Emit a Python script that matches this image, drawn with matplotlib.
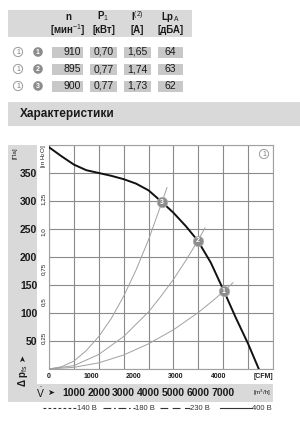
import matplotlib
matplotlib.use('Agg')
import matplotlib.pyplot as plt
from matplotlib import font_manager
from matplotlib.patches import Rectangle, Circle

# operating points table
point_no = [1, 2, 3]
speed = ['910', '895', '900']
power = ['0,70', '0,77', '0,77']
current = ['1,65', '1,74', '1,73']
noise = ['64', '63', '62']
head_top = ['n', 'P$_1$', 'I$^{(2)}$', 'Lp$_\\mathrm{A}$']
head_bot = ['[мин$^{-1}$]', '[кВт]', '[A]', '[дБА]']

# fan curve, m3/h vs Pa
fan_q = [0, 500, 1000, 1500, 2000, 2500, 3000, 3500, 4000, 4540, 5000, 5500, 5980, 6500, 7030, 7500, 8000, 8430]
fan_p = [396, 380, 365, 355, 350, 345, 339, 331, 319, 298, 279, 255, 229, 190, 139, 92, 45, 0]

# system curves through the operating points
sys1_q = [0, 1000, 2000, 3000, 4000, 5000, 6000, 6500, 7030, 7390]
sys1_p = [0, 3, 11, 25, 45, 70, 101, 119, 139, 154]
sys2_q = [0, 1000, 2000, 3000, 4000, 4500, 5000, 5500, 5980, 6270]
sys2_p = [0, 6, 26, 58, 102, 130, 160, 194, 229, 252]
sys3_q = [0, 500, 1000, 1500, 2000, 2500, 3000, 3500, 4000, 4540, 4740]
sys3_p = [0, 4, 14, 33, 58, 90, 130, 177, 231, 298, 324]

# operating points 1..3
op_q = [7030, 5980, 4540]
op_p = [139, 229, 298]

pa_ticks = [50, 100, 150, 200, 250, 300, 350]
inh2o_ticks = [0.25, 0.5, 0.75, 1.0, 1.25]
inh2o_labels = ['0,25', '0,5', '0,75', '1,0', '1,25']
m3h_ticks = [1000, 2000, 3000, 4000, 5000, 6000, 7000]
cfm_ticks = [0, 1000, 2000, 3000, 4000]
legend_labels = ['140 В', '180 В', '230 В', '400 В']

names = {f.name for f in font_manager.fontManager.ttflist}
main_font = 'Liberation Sans Narrow' if 'Liberation Sans Narrow' in names else 'Liberation Sans'
plt.rcParams['font.family'] = [main_font, 'DejaVu Sans']
plt.rcParams['mathtext.fontset'] = 'custom'
plt.rcParams['mathtext.rm'] = main_font
plt.rcParams['mathtext.it'] = main_font
plt.rcParams['mathtext.bf'] = main_font + ':bold'

band = '#d9d9d9'
cell = '#c8c8c8'
dark = '#8c8c8c'
txt = '#1a1a1a'

fig = plt.figure(figsize=(3.0, 4.32), dpi=100)

# background layer in pixel coords
bg = fig.add_axes([0, 0, 1, 1], zorder=0)
bg.set_xlim(0, 300)
bg.set_ylim(432, 0)
bg.axis('off')

# table
bg.add_patch(Rectangle((8, 10), 184, 27, color=band, lw=0))
col_c = [68, 103.5, 137.5, 170.5]
cells = [(52, 83), (90, 117), (124, 151), (158, 183)]
for c, t, b in zip(col_c, head_top, head_bot):
    bg.text(c, 16.5, t, ha='center', va='center', fontsize=7, fontweight='bold', color=txt)
    bg.text(c, 30, b, ha='center', va='center', fontsize=7, fontweight='bold', color=txt)

for i in range(len(point_no)):
    y = 52 + 17 * i
    bg.add_patch(Circle((18, y), 4.6, fc='white', ec='#9a9a9a', lw=0.7))
    bg.text(18, y + 0.3, '1', ha='center', va='center', fontsize=5, color='#7a7a7a')
    bg.add_patch(Circle((38, y), 4.8, fc=dark, ec='none'))
    bg.text(38, y + 0.3, str(point_no[i]), ha='center', va='center', fontsize=5,
            fontweight='bold', color='white')
    for (x0, x1) in cells:
        bg.add_patch(Rectangle((x0, y - 5.5), x1 - x0, 11, color=cell, lw=0))
    bg.text(81, y, speed[i], ha='right', va='center', fontsize=7.5, color=txt)
    bg.text(col_c[1], y, power[i], ha='center', va='center', fontsize=7.5, color=txt)
    bg.text(col_c[2], y, current[i], ha='center', va='center', fontsize=7.5, color=txt)
    bg.text(col_c[3], y, noise[i], ha='center', va='center', fontsize=7.5, color=txt)

# section title
bg.add_patch(Rectangle((8, 102), 292, 24, color=band, lw=0))
bg.text(20, 114.5, 'Характеристики', ha='left', va='center', fontsize=8.5,
        fontweight='bold', color=txt)

# gray frame around chart labels
bg.add_patch(Rectangle((8, 145), 29, 239, color=band, lw=0))
bg.add_patch(Rectangle((8, 384), 265, 18, color=band, lw=0))
bg.text(15, 153, '[Па]', rotation=90, ha='center', va='center', fontsize=4.5, color=txt)
bg.text(43, 156, '[in H$_2$O]', rotation=90, ha='center', va='center', fontsize=4.5, color=txt)
bg.text(23, 376, 'Δ p$_{fs}$', rotation=90, ha='center', va='center', fontsize=7,
        fontweight='bold', color=txt)
bg.text(23, 359, '➤', rotation=90, ha='center', va='center', fontsize=6,
        family='DejaVu Sans', color=txt)
bg.text(40, 392.5, '$\\dot{V}$', ha='center', va='center', fontsize=7.5, color=txt)
bg.text(51, 392.5, '➤', ha='center', va='center', fontsize=6, family='DejaVu Sans', color=txt)
bg.text(262, 393, '[m$^3$/h]', ha='center', va='center', fontsize=4.5, color=txt)
bg.text(263, 377, '[CFM]', ha='center', va='center', fontsize=5, fontweight='bold', color=txt)
bg.add_patch(Circle((264, 154), 4.6, fc='white', ec='#9a9a9a', lw=0.7))
bg.text(264, 154.3, '1', ha='center', va='center', fontsize=5, color='#7a7a7a')

# legend
leg_x = [(43, 77), (103, 135), (160, 190), (220, 252)]
leg_ls = [(0, (2.5, 2.0)), (0, (7, 2.5, 1.5, 2.5)), (0, (7, 4)), '-']
for (x0, x1), ls, lab in zip(leg_x, leg_ls, legend_labels):
    bg.plot([x0, x1], [408, 408], color='#333333', lw=0.8, linestyle=ls)
    bg.text(x1, 408, lab, ha='left', va='center', fontsize=5.5, color='#333333')

# main chart
ax = fig.add_axes([49 / 300, (432 - 369) / 432, 224 / 300, 224 / 432], zorder=1)
ax.patch.set_visible(False)
ax.set_xlim(0, 9000)
ax.set_ylim(0, 400)
xt = list(range(0, 10000, 1000))
yt = list(range(0, 450, 50))
ax.set_xticks(xt)
ax.set_xticklabels([str(t) if t in m3h_ticks else '' for t in xt])
ax.set_yticks(yt)
ax.set_yticklabels([str(t) if t in pa_ticks else '' for t in yt])
ax.tick_params(axis='x', length=0, pad=13.5, labelsize=7.5, colors=txt)
ax.tick_params(axis='y', length=0, pad=8.5, labelsize=7.5, colors=txt)
for lab in ax.get_xticklabels() + ax.get_yticklabels():
    lab.set_fontweight('bold')
ax.grid(True, color='#8a8a8a', lw=0.8)
ax.set_axisbelow(True)
for s in ax.spines.values():
    s.set_color('#a0a0a0')
    s.set_linewidth(0.8)

ax.plot(sys1_q, sys1_p, color='#a0a0a0', lw=0.7, zorder=2)
ax.plot(sys2_q, sys2_p, color='#a0a0a0', lw=0.7, zorder=2)
ax.plot(sys3_q, sys3_p, color='#a0a0a0', lw=0.7, zorder=2)
ax.plot(fan_q, fan_p, color='#111111', lw=1.4, zorder=3)
ax.plot(op_q, op_p, 'o', ms=7.5, mfc=dark, mec='#b0b0b0', mew=0.5, zorder=4)
for n, q, p in zip(point_no, op_q, op_p):
    ax.text(q, p, str(n), ha='center', va='center', fontsize=5, fontweight='bold',
            color='white', zorder=5)

# CFM scale
sx = ax.secondary_xaxis('bottom', functions=(lambda q: q / 1.699, lambda c: c * 1.699))
sx.set_xticks(cfm_ticks)
sx.set_xticklabels([str(t) for t in cfm_ticks])
sx.tick_params(length=0, pad=3.2, labelsize=5, colors=txt)
for lab in sx.get_xticklabels():
    lab.set_fontweight('bold')
sx.spines['bottom'].set_visible(False)

# in H2O scale
sy = ax.secondary_yaxis('left', functions=(lambda p: p / 249.09, lambda h: h * 249.09))
sy.set_yticks(inh2o_ticks)
sy.set_yticklabels(inh2o_labels)
sy.tick_params(length=0, pad=2.2, labelsize=4.5, colors=txt)
for lab in sy.get_yticklabels():
    lab.set_rotation(90)
sy.spines['left'].set_visible(False)

fig.savefig('out.png', dpi=100)
